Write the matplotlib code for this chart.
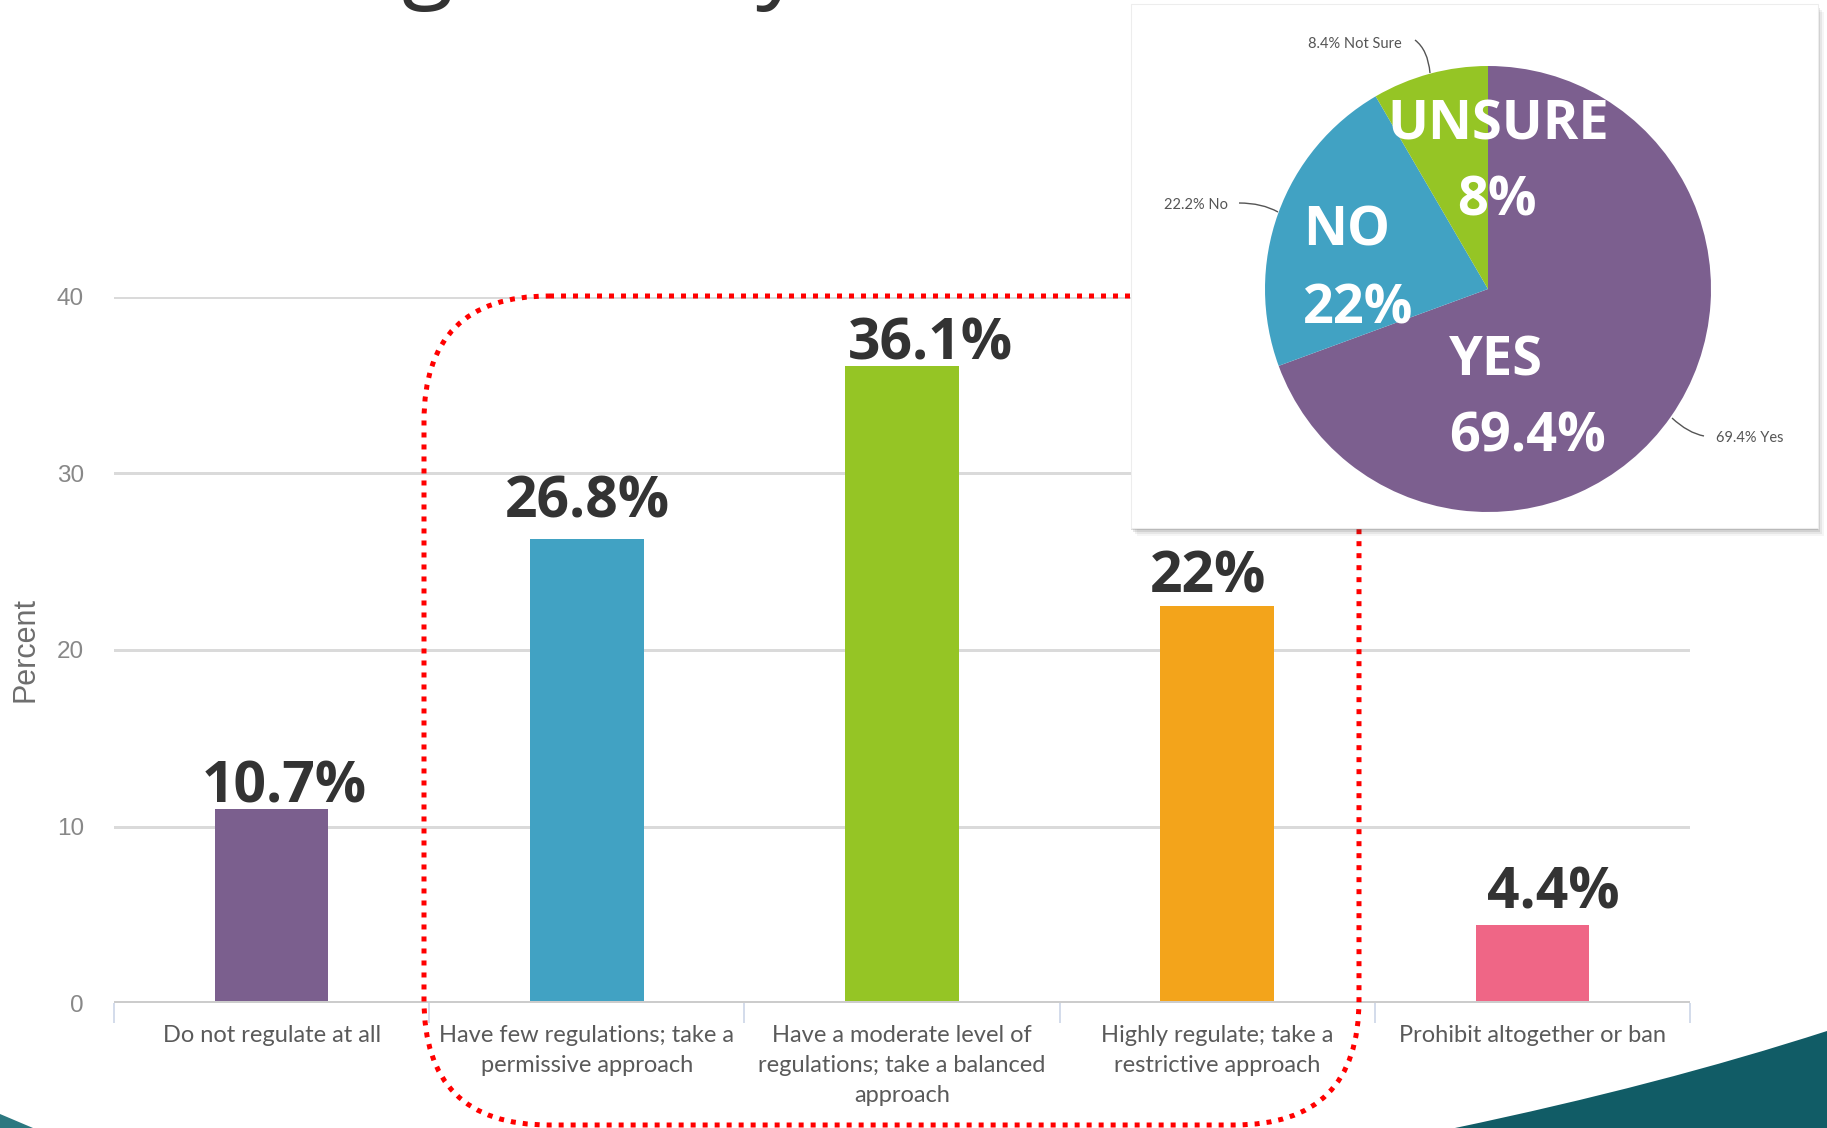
import matplotlib
matplotlib.use("Agg")
import matplotlib.pyplot as plt
from matplotlib.patches import FancyBboxPatch, Rectangle, PathPatch, Polygon
from matplotlib.path import Path

# ---------------- data ----------------
categories = [
    "Do not regulate at all",
    "Have few regulations; take a\npermissive approach",
    "Have a moderate level of\nregulations; take a balanced\napproach",
    "Highly regulate; take a\nrestrictive approach",
    "Prohibit altogether or ban",
]
bar_values = [11.0, 26.3, 36.1, 22.5, 4.4]
bar_labels = ["10.7%", "26.8%", "36.1%", "22%", "4.4%"]
bar_colors = ["#7B5F8E", "#41A2C3", "#95C525", "#F3A41B", "#EF6686"]
y_ticks = [0, 10, 20, 30, 40]

pie_labels = ["Yes", "No", "Not Sure"]
pie_values = [69.4, 22.2, 8.4]
pie_colors = ["#7C5F8F", "#41A2C3", "#95C525"]
pie_small_labels = ["69.4% Yes", "22.2% No", "8.4% Not Sure"]
pie_big_word = ["YES", "NO", "UNSURE"]
pie_big_pct = ["69.4%", "22%", "8%"]

# ---------------- layout (pixels) ----------------
label_dx_px = [13, 1, 28, -9, 21]     # manual horizontal shifts of bar labels
label_dy_px = [6, 21, 6, 13, 17]      # gap between bar top and label baseline

W, H = 1827, 1128
DPI = 100
fig = plt.figure(figsize=(W / DPI, H / DPI), dpi=DPI, facecolor="white")

def pt(px):
    return px * 72.0 / DPI

BIG = dict(family="Open Sans", weight="bold")

# bar axes
AX_L, AX_R, AX_T, AX_B = 114, 1690, 297, 1003
ax = fig.add_axes([AX_L / W, 1 - AX_B / H, (AX_R - AX_L) / W, (AX_B - AX_T) / H], zorder=1)
ax.patch.set_alpha(0)
x = list(range(len(categories)))
ax.bar(x, bar_values, width=0.36, color=bar_colors, zorder=3)
ax.set_xlim(-0.5, len(categories) - 0.5)
ax.set_ylim(0, 40)
for s in ax.spines.values():
    s.set_visible(False)
for t in y_ticks[1:]:
    ax.axhline(t, color="#DADADA", lw=pt(3), zorder=1)
ax.axhline(0, color="#CCCCCC", lw=pt(4), zorder=4)
ax.set_yticks(y_ticks)
ax.set_yticklabels([str(t) for t in y_ticks], family="Liberation Sans",
                   fontsize=17.5, color="#888888")
ax.tick_params(axis="y", length=0, pad=pt(30))
ax.set_xticks(x)
ax.set_xticklabels(categories, family="Lato", fontsize=17, color="#5A5A5A",
                   linespacing=1.53)
ax.tick_params(axis="x", which="major", length=0, pad=pt(22))
ax.set_xticks([i - 0.5 for i in range(len(categories) + 1)], minor=True)
ax.tick_params(axis="x", which="minor", length=pt(20), width=1.4,
               color="#D3DCEB", direction="out")
ax.set_ylabel("Percent", family="Liberation Sans", fontsize=22, color="#6E6E6E")
ax.yaxis.set_label_coords(-(AX_L - 40) / (AX_R - AX_L), (AX_B - 650) / (AX_B - AX_T))

for xi, v, lab, dx, dy in zip(x, bar_values, bar_labels, label_dx_px, label_dy_px):
    ax.annotate(lab, (xi, v), xytext=(pt(dx), pt(dy)), textcoords="offset points",
                ha="center", va="baseline", fontsize=41, color="#333333",
                annotation_clip=False, zorder=6, **BIG)

# overlay in pixel coordinates (below the pie box)
ov = fig.add_axes([0, 0, 1, 1], zorder=2)
ov.set_xlim(0, W)
ov.set_ylim(H, 0)
ov.axis("off")
ov.patch.set_alpha(0)

red = FancyBboxPatch((424, 296), 1359 - 424, 1125 - 296,
                     boxstyle="round,pad=0,rounding_size=125",
                     fill=False, edgecolor="#FF0000", lw=pt(5),
                     linestyle=(0, (1, 1.4)), capstyle="butt", zorder=2)
ov.add_patch(red)

# pie box shadow + box
bx0, by0, bx1, by1 = 1131, 4, 1818, 528
for k, a in [(8, 0.05), (6, 0.08), (4, 0.12), (2, 0.18)]:
    ov.add_patch(Rectangle((bx0 + k - 2, by0 + k), bx1 - bx0, by1 - by0,
                           facecolor="#404040", alpha=a, edgecolor="none", zorder=3))
ov.add_patch(Rectangle((bx0, by0), bx1 - bx0, by1 - by0, facecolor="white",
                       edgecolor="#EDEDED", lw=0.8, zorder=4))

# pie axes
cx, cy, R = 1488, 289, 223
axp = fig.add_axes([(cx - R) / W, 1 - (cy + R) / H, 2 * R / W, 2 * R / H], zorder=3)
axp.pie(pie_values, colors=pie_colors, startangle=90, counterclock=False,
        radius=1, wedgeprops=dict(linewidth=0))
axp.set_xlim(-1, 1)
axp.set_ylim(-1, 1)
axp.set_aspect("equal")
axp.axis("off")

# top overlay for texts and decorations
ov2 = fig.add_axes([0, 0, 1, 1], zorder=4)
ov2.set_xlim(0, W)
ov2.set_ylim(H, 0)
ov2.axis("off")
ov2.patch.set_alpha(0)

# small pie labels with leader lines
small_pos = [((1716, 438), "left"), ((1228, 205), "right"), ((1402, 44), "right")]
leaders = [[(1672, 418), (1688, 433), (1704, 436)],
           [(1239, 203), (1262, 203), (1278, 212)],
           [(1415, 40), (1428, 50), (1430, 73)]]
for lab, (pos, ha), ld in zip(pie_small_labels, small_pos, leaders):
    ov2.text(pos[0], pos[1], lab, family="Lato", fontsize=10.5, color="#555555",
             ha=ha, va="center")
    ov2.add_patch(PathPatch(Path(ld, [Path.MOVETO, Path.CURVE3, Path.CURVE3]),
                            fill=False, edgecolor="#555555", lw=1))

# big white pie labels
big_pos = [((1449, 375, "left"), (1449, 451, "left")),
           ((1303, 246, "left"), (1303, 324, "left")),
           ((1498, 139, "center"), (1497, 215, "center"))]
for word, pct, (p1, p2) in zip(pie_big_word, pie_big_pct, big_pos):
    ov2.text(p1[0], p1[1], word, ha=p1[2], va="baseline", fontsize=39,
             color="white", **BIG)
    ov2.text(p2[0], p2[1], pct, ha=p2[2], va="baseline", fontsize=39,
             color="white", **BIG)

# decorative teal shapes
teal = "#115C66"
verts = [(1455, 1128), (1660, 1085), (1827, 1031), (1827, 1128), (1455, 1128)]
codes = [Path.MOVETO, Path.CURVE3, Path.CURVE3, Path.LINETO, Path.CLOSEPOLY]
ov2.add_patch(PathPatch(Path(verts, codes), facecolor=teal, edgecolor="none"))
ov2.add_patch(Polygon([(0, 1114), (33, 1128), (0, 1128)], closed=True,
                      facecolor="#2C7880", edgecolor="none"))

# cut-off title descenders (the title itself lies above the visible area)
ov2.text(427, -10, "g", family="Open Sans", fontsize=68, color="#333333",
         ha="center", va="baseline", clip_on=False)
ov2.text(780, -10, "y", family="Open Sans", fontsize=68, color="#333333",
         ha="center", va="baseline", clip_on=False)

fig.savefig("out.png", dpi=DPI, facecolor="white")
